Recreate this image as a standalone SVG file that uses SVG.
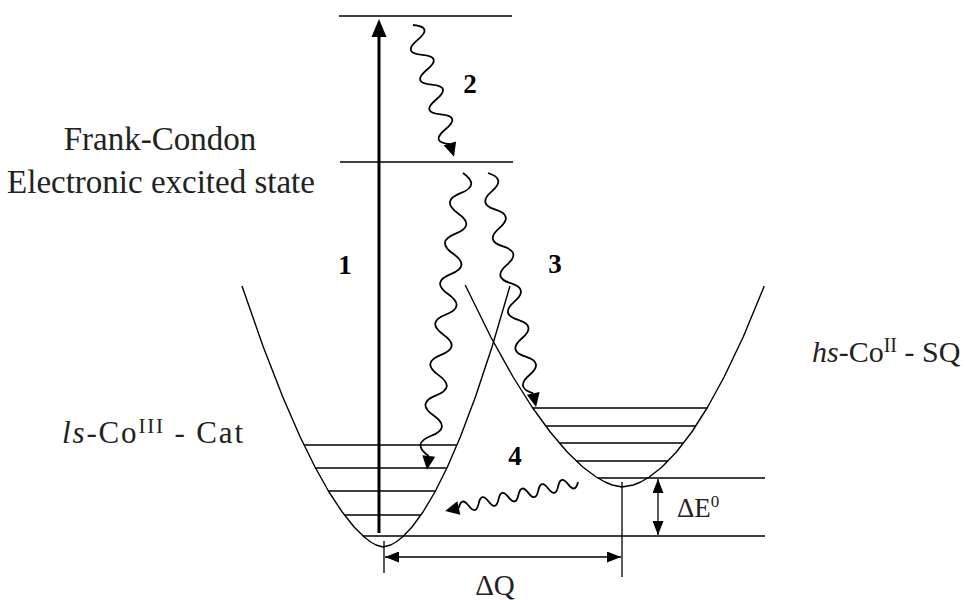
<svg xmlns="http://www.w3.org/2000/svg" width="966" height="600" viewBox="0 0 966 600">
<style>
  .ln { fill: none; stroke: #000; stroke-width: 1.3; }
  .cv { fill: none; stroke: #000; stroke-width: 1.4; stroke-linejoin: round; }
  .wv { fill: none; stroke: #000; stroke-width: 1.8; stroke-linejoin: round; }
  .ah { fill: #000; stroke: none; }
  .lbl { font-family: "Liberation Serif", "Times New Roman", serif; fill: #222; }
  .num { font-family: "Liberation Serif", "Times New Roman", serif; font-weight: bold; font-size: 27px; fill: #000; text-anchor: middle; }
</style>
<defs>
  <marker id="head" viewBox="0 0 14 11" refX="14" refY="5.5" markerWidth="14" markerHeight="11" markerUnits="userSpaceOnUse" orient="auto-start-reverse">
    <path d="M0,0 L14,5.5 L0,11 Z" fill="#000"/>
  </marker>
</defs>
<rect width="966" height="600" fill="#fff"/>

<g id="fc-state">
  <line class="ln" x1="339" y1="16" x2="512" y2="16"/>
  <line class="ln" x1="340" y1="162" x2="513" y2="162"/>
  <text class="lbl" x="160" y="150" font-size="33" text-anchor="middle">Frank-Condon</text>
  <text class="lbl" x="161" y="193" font-size="33" text-anchor="middle">Electronic excited state</text>
</g>

<g id="ls-state">
  <polyline class="cv" points="242,286 263.3,347 282.8,397 300.2,437 315,467 329,492 342.2,512 354.1,527 364.2,537 370.7,542 376,545 383,547 390.7,545 396.1,542 402.5,537 412,527 423,512 434.9,492 447.4,467 460.3,437 475.4,397 492,347 510,286"/>
  <line class="ln" x1="304" y1="445" x2="457" y2="445"/>
  <line class="ln" x1="315.5" y1="468" x2="447" y2="468"/>
  <line class="ln" x1="328.4" y1="491" x2="435.4" y2="491"/>
  <line class="ln" x1="344.4" y1="515" x2="421" y2="515"/>
  <line class="ln" x1="384" y1="541" x2="384" y2="573"/>
  <text class="lbl" x="62" y="443" font-size="31" textLength="181" lengthAdjust="spacing"><tspan font-style="italic">ls</tspan>-Co<tspan dy="-10" font-size="21">III</tspan><tspan dy="10"> - Cat</tspan></text>
</g>

<g id="hs-state">
  <polyline class="cv" points="465.2,285 490.8,337 513.1,377 532,407 550.2,432 567.2,452 582.8,467 596.2,477 605,482 612.2,485 622,487 633.3,485 640.7,482 649.3,477 662,467 676.4,452 691.8,432 707.7,407 724.1,377 743.2,337 764.3,286"/>
  <line class="ln" x1="533" y1="408" x2="707" y2="408"/>
  <line class="ln" x1="545.5" y1="426" x2="695.9" y2="426"/>
  <line class="ln" x1="559.2" y1="443" x2="683.4" y2="443"/>
  <line class="ln" x1="576.2" y1="461" x2="668.2" y2="461"/>
  <line class="ln" x1="622" y1="482" x2="622" y2="577"/>
  <text class="lbl" x="812" y="362" font-size="30"><tspan font-style="italic">hs</tspan>-Co<tspan dy="-10" font-size="20">II</tspan><tspan dy="10"> - SQ</tspan></text>
</g>

<g id="energy-gap">
  <line class="ln" x1="597.7" y1="478" x2="765" y2="478"/>
  <line class="ln" x1="363" y1="536" x2="765" y2="536"/>
  <text class="lbl" x="677" y="517" font-size="27">ΔE<tspan dy="-10" font-size="17">0</tspan></text>
</g>

<g id="displacement">
  <text class="lbl" x="495" y="595" font-size="29" text-anchor="middle">ΔQ</text>
</g>

<g id="labels">
  <text class="num" x="345" y="274">1</text>
  <text class="num" x="470" y="93">2</text>
  <text class="num" x="555" y="273">3</text>
  <text class="num" x="515" y="465">4</text>
</g>

<g id="connectors">
  <line x1="379" y1="533" x2="379" y2="34" stroke="#000" stroke-width="3"/>
  <polygon class="ah" points="379,19 371.5,37 386.5,37"/>
  <g transform="translate(413,25) rotate(72.7)">
    <path class="wv" d="M0,0 q7.8,-19 15.6,0 t15.6,0 t15.6,0 t15.6,0 t15.6,0 t15.6,0 t15.6,0 t15.6,0"/>
    <polygon class="ah" points="124,-6.5 138,0 124,6.5"/>
  </g>
  <g transform="translate(463,173) rotate(96.9)">
    <path class="wv" d="M0,0 q10.18,-19 20.36,0 t20.36,0 t20.36,0 t20.36,0 t20.36,0 t20.36,0 t20.36,0 t20.36,0 t20.36,0 t20.36,0 t20.36,0 t20.36,0 t20.36,0 t20.36,0"/>
    <polygon class="ah" points="285,-6.5 299,0 285,6.5"/>
  </g>
  <g transform="translate(488,173) rotate(78.4)">
    <path class="wv" d="M0,0 q9.375,-17 18.75,0 t18.75,0 t18.75,0 t18.75,0 t18.75,0 t18.75,0 t18.75,0 t18.75,0 t18.75,0 t18.75,0 t18.75,0 t18.75,0"/>
    <polygon class="ah" points="225,-6.5 239,0 225,6.5"/>
  </g>
  <g transform="translate(578,482) rotate(167.7)">
    <path class="wv" d="M0,0 q5.08,-11 10.17,0 t10.17,0 t10.17,0 t10.17,0 t10.17,0 t10.17,0 t10.17,0 t10.17,0 t10.17,0 t10.17,0 t10.17,0 t10.17,0"/>
    <polygon class="ah" points="122,-7 136,0 122,7"/>
  </g>
  <line class="ln" x1="658" y1="479" x2="658" y2="535" marker-start="url(#head)" marker-end="url(#head)"/>
  <line class="ln" x1="385" y1="557" x2="621" y2="557" marker-start="url(#head)" marker-end="url(#head)"/>
</g>
</svg>
